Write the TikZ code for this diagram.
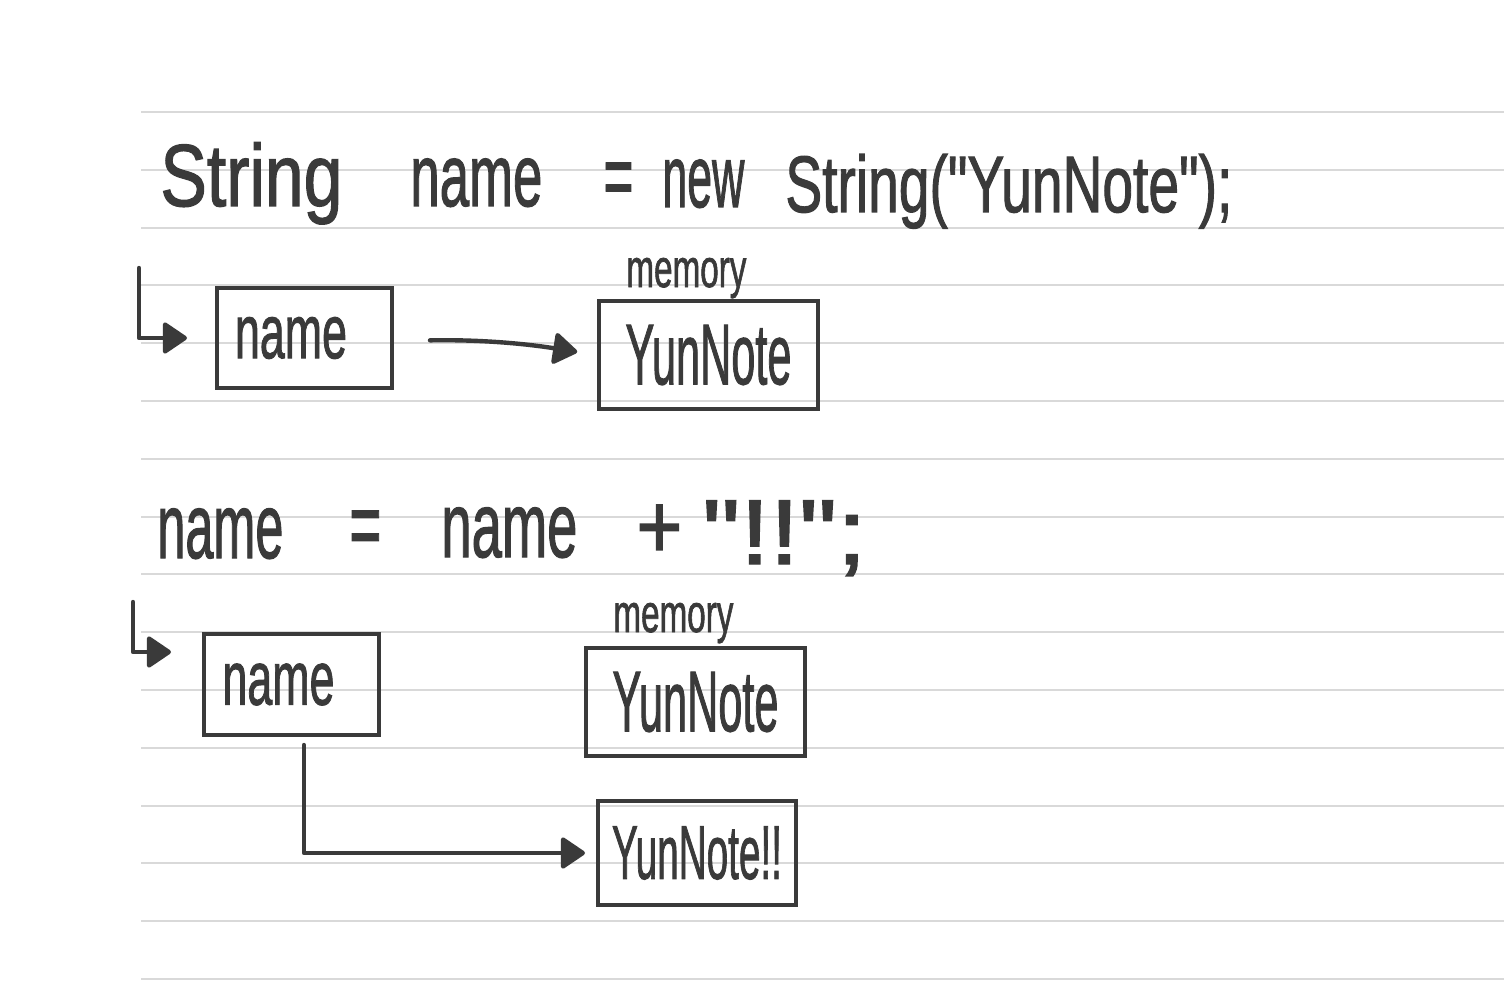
\documentclass[tikz,border=0pt]{standalone}
\usepackage{fontspec}
\setmainfont{Liberation Sans}
\newfontfamily\handfont{Liberation Sans}[FakeBold=1.6]
\usepackage{graphicx}
\usetikzlibrary{arrows.meta}
\definecolor{ink}{HTML}{3A3A3A}
\definecolor{ruleline}{HTML}{D9D9D9}
\newcommand{\fitw}[2]{\resizebox{#1}{\height}{#2}}
\newcommand{\fsz}[1]{\handfont\fontsize{#1pt}{#1pt}\selectfont}
\newcommand{\qq}{\symbol{34}}
\begin{document}
\begin{tikzpicture}[x=0.5pt,y=-0.5pt,
  hand/.style={inner sep=0pt, anchor=base west, text=ink},
  membox/.style={draw=ink, line width=2pt, inner sep=0pt, text=ink, rectangle},
  conn/.style={draw=ink, line width=2.2pt, line cap=round, line join=round,
               -{Triangle[length=13pt,width=17pt,round]}},
  ruled/.style={draw=ruleline, line width=1pt}]
\useasboundingbox (0,0) rectangle (1504,1000);
\fill[white] (0,0) rectangle (1504,1000);
\foreach \i in {0,...,15} \draw[ruled] (141,{112+57.8*\i}) -- (1504,{112+57.8*\i});

% line 1
\node[hand, font=\fsz{44}] (l1a) at (160,206) {\fitw{91pt}{String}};
\node[hand, font=\fsz{44}] (l1b) at (410,206) {\fitw{66pt}{name}};
\node[hand, font=\fsz{44}] (l1c) at (603,206) {\fitw{15pt}{=}};
\node[hand, font=\fsz{44}] (l1d) at (662,207) {\fitw{41pt}{new}};
\node[hand, font=\fsz{40}] (l1e) at (785,212) {\fitw{223.5pt}{String(\qq YunNote\qq);}};

% first diagram
\node[membox, font=\fsz{38}, minimum width=87.5pt, minimum height=50pt] (b1) at (304.5,338) {\fitw{56pt}{name}\hspace*{13.5pt}};
\node[hand, font=\fsz{27}] (m1) at (626,287) {\fitw{60pt}{memory}};
\node[membox, font=\fsz{43}, minimum width=109.5pt, minimum height=54pt] (b2) at (708.5,355) {\fitw{83pt}{YunNote}};
\coordinate (s1) at (139,268);
\draw[conn, shorten >=14pt] (s1) |- (b1.west);
\draw[conn, shorten <=18pt, shorten >=10pt] ([yshift=-1.5pt]b1.east) to[bend left=5] (b2.west);

% line 2
\node[hand, font=\fsz{46}] (l2a) at (157,558) {\fitw{63pt}{name}};
\node[hand, font=\fsz{46}] (l2b) at (349,556) {\fitw{16pt}{=}};
\node[hand, font=\fsz{46}] (l2c) at (441,557) {\fitw{68pt}{name}};
\node[hand, font=\fsz{46}] (l2d) at (636,558) {\fitw{23pt}{+}};
\node[hand, font=\fsz{46}] (l2e) at (702,564) {\fitw{82pt}{\qq!!\qq;}};

% second diagram
\node[membox, font=\fsz{38}, minimum width=87.5pt, minimum height=50.5pt] (b3) at (291.5,684.5) {\fitw{56pt}{name}\hspace*{13pt}};
\node[hand, font=\fsz{27}] (m2) at (613,632) {\fitw{60pt}{memory}};
\node[membox, font=\fsz{43}, minimum width=109.5pt, minimum height=54pt] (b4) at (695.5,702) {\fitw{83pt}{YunNote}};
\node[membox, font=\fsz{38}, minimum width=99pt, minimum height=52pt] (b5) at (697,853) {\fitw{85pt}{YunNote!!}};
\coordinate (s2) at (133,602);
\coordinate (e2) at (171,652);
\draw[conn] (s2) |- (e2);
\draw[conn, shorten <=4pt, shorten >=5.5pt] ([xshift=6.25pt]b3.south) |- (b5.west);
\end{tikzpicture}
\end{document}
